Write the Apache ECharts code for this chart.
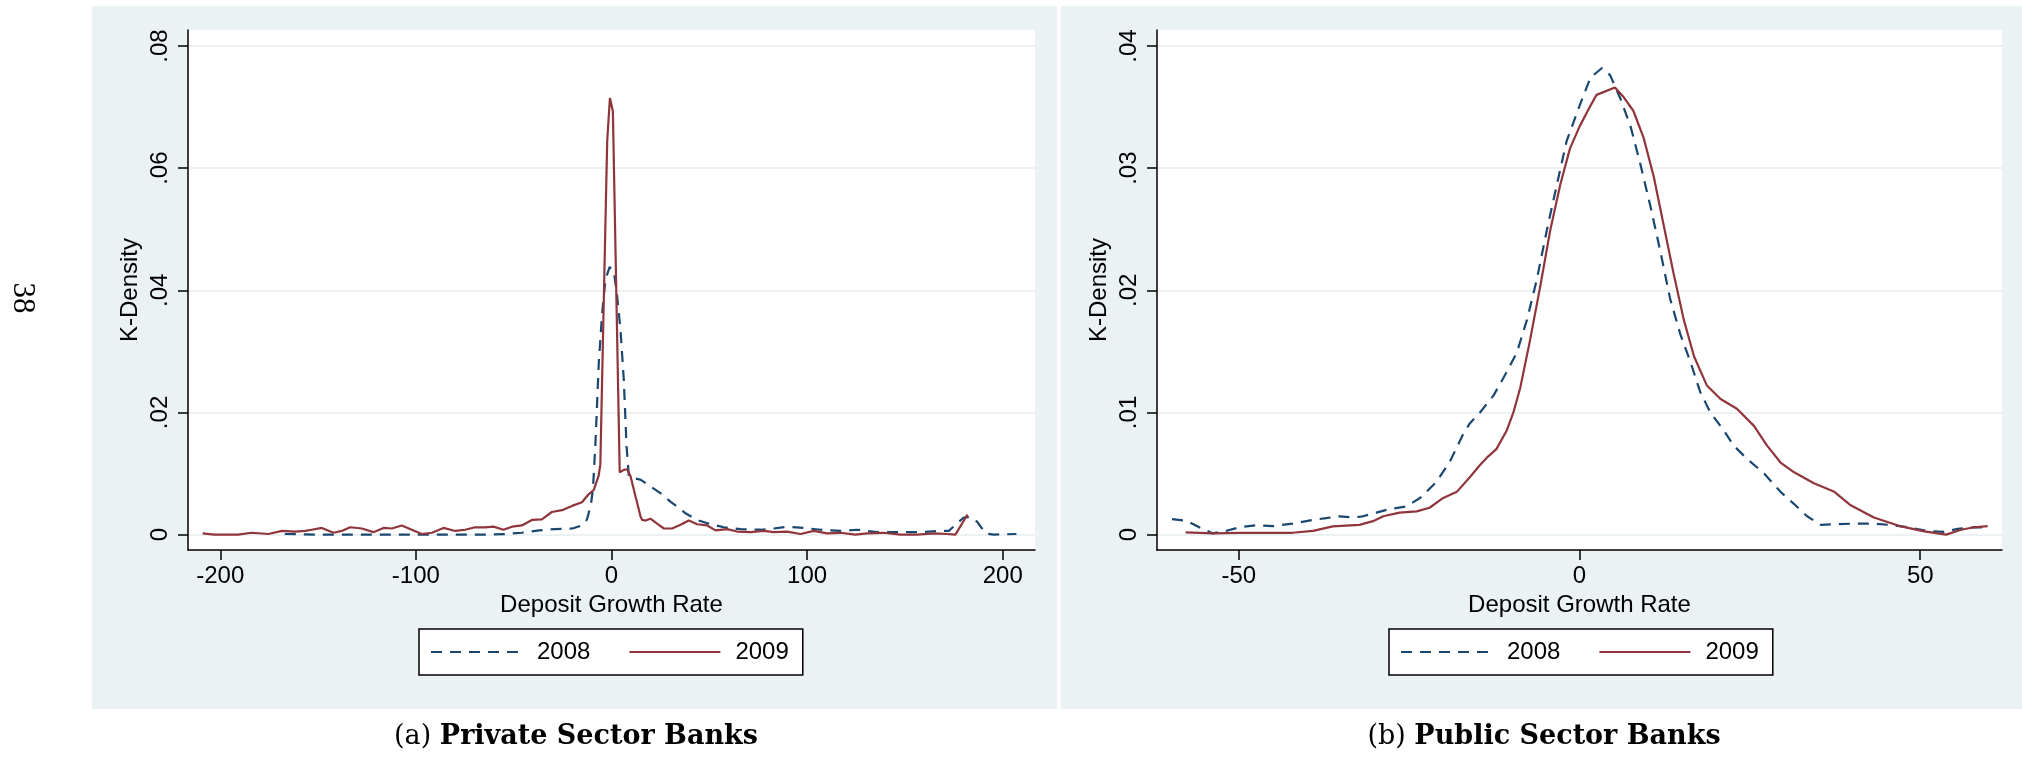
<!DOCTYPE html>
<html>
<head>
<meta charset="utf-8">
<script src="https://cdn.jsdelivr.net/npm/echarts@6/dist/echarts.min.js"></script>
<style>
html,body{margin:0;padding:0;background:#fff;}
#c{width:2022px;height:758px;}
</style>
</head>
<body>
<div id="c"></div>
<script>
// ---------- DATA ----------
const seriesNames = ['2008', '2009'];

// (a) Private Sector Banks: [deposit growth rate, density]
const private2008 = [
  [-167,0.0001],[-150,0.0000],[-130,0.0000],[-114,0.0000],[-100,0.0000],[-80,0.0000],[-63,0.0000],
  [-54,0.0001],[-46,0.0003],[-37,0.0007],[-29,0.0009],[-20,0.0010],[-15,0.0015],[-12.5,0.0025],
  [-10.5,0.0050],[-9.5,0.0074],[-8.2,0.0150],[-6.5,0.0281],[-4.8,0.0362],[-3.1,0.0417],[-1.0,0.0438],
  [1.2,0.0431],[2.9,0.0390],[4.6,0.0335],[6.3,0.0253],[7.7,0.0144],[8.9,0.0095],[10.6,0.0093],
  [14.8,0.0090],[19.9,0.0079],[25.0,0.0068],[30.1,0.0054],[32.7,0.0048],[37.8,0.0035],[43.8,0.0024],
  [50.6,0.0017],[57.4,0.0012],[65.9,0.0009],[76.2,0.0008],[83,0.0010],[89.8,0.0013],[98.3,0.0011],
  [106.8,0.0008],[117,0.0006],[125.6,0.0008],[135.8,0.0004],[147.7,0.0004],[158,0.0004],[168.2,0.0006],
  [172.4,0.0006],[175.8,0.0016],[180.1,0.0028],[183.5,0.0029],[187,0.0021],[191.2,0.0002],[195.4,0.0000],
  [207,0.0001]
];
const private2009 = [
  [-209,0.0002],[-203,0.0000],[-191,0.0000],[-184,0.0003],[-175.4,0.0001],[-168.5,0.0006],[-161.8,0.0005],
  [-156.6,0.0006],[-153.2,0.0008],[-148.1,0.0011],[-142.1,0.0003],[-137.9,0.0006],[-133.6,0.0012],
  [-127.6,0.0010],[-121.7,0.0004],[-116.6,0.0011],[-112.3,0.0010],[-107.2,0.0015],[-102.1,0.0008],
  [-97,0.0001],[-91.8,0.0003],[-85.9,0.0011],[-79.9,0.0006],[-74.8,0.0008],[-69.7,0.0012],[-64.6,0.0012],
  [-60.3,0.0013],[-55.2,0.0008],[-50.9,0.0013],[-45.8,0.0015],[-40.7,0.0024],[-35.6,0.0025],[-30.5,0.0037],
  [-25.3,0.0040],[-20.2,0.0047],[-15.1,0.0053],[-11.7,0.0066],[-9.1,0.0073],[-6.6,0.0096],[-5.7,0.0115],
  [-4.5,0.0300],[-3.3,0.0480],[-2.2,0.0644],[-0.8,0.0715],[0.7,0.0693],[4.2,0.0102],[6.3,0.0106],
  [8.0,0.0107],[9.7,0.0096],[11.4,0.0074],[12.3,0.0062],[13.1,0.0052],[14.8,0.0030],[15.7,0.0024],
  [17.4,0.0023],[19.9,0.0026],[23.3,0.0018],[26.8,0.0010],[31,0.0010],[35.3,0.0016],[39.5,0.0023],
  [43.8,0.0017],[48.9,0.0015],[53.2,0.0007],[59.1,0.0009],[64.2,0.0005],[71.1,0.0004],[77.9,0.0006],
  [83,0.0004],[89.8,0.0005],[96.6,0.0001],[103.4,0.0006],[110.2,0.0002],[117,0.0003],[124.7,0.0000],
  [130.7,0.0002],[139.2,0.0003],[147.7,0.0000],[156.3,0.0000],[164.8,0.0002],[171.6,0.0001],
  [175.8,0.0000],[182,0.0033]
];

// (b) Public Sector Banks
const public2008 = [
  [-59.8,0.00126],[-57.7,0.00114],[-55.8,0.0006],[-53.8,0.0001],[-51.9,0.0003],[-49.9,0.0006],
  [-47.5,0.00076],[-45,0.0007],[-42.1,0.0009],[-39.1,0.0012],[-37.2,0.00135],[-35.2,0.0015],
  [-33.2,0.0014],[-31.8,0.0015],[-29.8,0.0018],[-27.8,0.0021],[-25.4,0.0023],[-23.4,0.0030],
  [-21,0.0043],[-19,0.0060],[-17.1,0.0082],[-16.1,0.0091],[-14.6,0.0100],[-12.6,0.0114],
  [-10.7,0.0133],[-9.2,0.0149],[-7.7,0.0176],[-6.3,0.0208],[-4.8,0.0249],[-3.3,0.0287],
  [-1.9,0.0322],[0,0.0351],[1.6,0.0374],[3.3,0.0382],[4.5,0.0376],[6,0.0357],[7.5,0.0334],
  [8.9,0.0304],[10.4,0.0269],[11.9,0.0231],[13.3,0.0193],[14.8,0.0164],[16.3,0.0141],[17.7,0.0117],
  [19.2,0.0100],[21.2,0.0085],[22.6,0.0073],[24.6,0.0062],[27.1,0.0050],[29.5,0.0035],[31.5,0.0025],
  [33.4,0.0015],[35.4,0.0008],[37.4,0.00085],[40.3,0.0009],[43.2,0.0009],[46.2,0.00076],
  [48.6,0.00056],[51.1,0.0003],[53.5,0.00023],[55.5,0.00047],[57.9,0.0006],[59.9,0.0006]
];
const public2009 = [
  [-57.8,0.00018],[-53.8,0.0001],[-49.9,0.00015],[-46,0.00015],[-42.1,0.00015],[-39.1,0.0003],
  [-36.2,0.00067],[-32.3,0.0008],[-30.3,0.0011],[-28.8,0.0015],[-26.4,0.0018],[-23.9,0.0019],
  [-22,0.0022],[-20,0.0030],[-18,0.0035],[-16.1,0.0047],[-14.6,0.0057],[-13.6,0.0063],[-12.2,0.0070],
  [-10.7,0.0085],[-9.7,0.0100],[-8.7,0.0120],[-7.3,0.0158],[-5.8,0.0202],[-4.3,0.0249],[-2.8,0.0287],
  [-1.4,0.0316],[0,0.0334],[1.6,0.0351],[2.5,0.0360],[5.2,0.0366],[6.5,0.0358],[7.9,0.0347],
  [9.4,0.0325],[10.9,0.0293],[12.4,0.0252],[13.8,0.0214],[15.3,0.0176],[16.8,0.0146],[18.7,0.0122],
  [20.7,0.0111],[23.1,0.0103],[25.6,0.0089],[27.5,0.0073],[29.5,0.0059],[31.5,0.0051],[34.4,0.0042],
  [37.4,0.0035],[39.8,0.0024],[43.2,0.0014],[47.2,0.00067],[50.6,0.00026],[53.8,0.0000],[56,0.0004],
  [57.9,0.0006],[59.9,0.0007]
];

// tick values and labels
const privXTicks = [-200, -100, 0, 100, 200];
const privXLabels = ['-200', '-100', '0', '100', '200'];
const privYTicks = [0, 0.02, 0.04, 0.06, 0.08];
const privYLabels = ['0', '.02', '.04', '.06', '.08'];
const pubXTicks = [-50, 0, 50];
const pubXLabels = ['-50', '0', '50'];
const pubYTicks = [0, 0.01, 0.02, 0.03, 0.04];
const pubYLabels = ['0', '.01', '.02', '.03', '.04'];

const xTitle = 'Deposit Growth Rate';
const yTitle = 'K-Density';
const captionLabels = ['(a) ', '(b) '];
const captionTitles = ['Private Sector Banks', 'Public Sector Banks'];
const pageNumber = '38';

// ---------- STYLE ----------
const BLUE = '#1a476f';
const RED = '#90353b';
const BG = '#eaf2f3';
const GRIDLINE = '#e6eef0';
const FONT = 'Liberation Sans';

function labeler(ticks, labels) {
  return function (v) {
    const i = ticks.findIndex(t => Math.abs(t - v) < 1e-9);
    return i >= 0 ? labels[i] : '';
  };
}

function xAxisCfg(idx, min, max, ticks, labels) {
  return {
    type: 'value', gridIndex: idx, min: min, max: max,
    axisLine: {show: true, onZero: false, lineStyle: {color: '#000', width: 1.5}},
    axisTick: {show: true, length: 10, customValues: ticks, lineStyle: {color: '#000', width: 1.5}},
    axisLabel: {customValues: ticks, formatter: labeler(ticks, labels), fontSize: 24, color: '#000', fontFamily: FONT, margin: 14},
    splitLine: {show: false},
    name: xTitle, nameLocation: 'middle', nameGap: 40,
    nameTextStyle: {fontSize: 24, color: '#000', fontFamily: FONT}
  };
}
function yAxisCfg(idx, min, max, ticks, labels) {
  return {
    type: 'value', gridIndex: idx, min: min, max: max,
    axisLine: {show: true, onZero: false, lineStyle: {color: '#000', width: 1.5}},
    axisTick: {show: true, length: 10, customValues: ticks, lineStyle: {color: '#000', width: 1.5}},
    axisLabel: {customValues: ticks, formatter: labeler(ticks, labels), rotate: 90, fontSize: 24, color: '#000', fontFamily: FONT, margin: 16},
    splitLine: {show: true, lineStyle: {color: GRIDLINE, width: 1.5}},
    name: yTitle, nameLocation: 'middle', nameRotate: 90, nameGap: 46,
    nameTextStyle: {fontSize: 24, color: '#000', fontFamily: FONT}
  };
}
function lineSeries(name, data, xi, color, dashed) {
  return {
    type: 'line', name: name, data: data, xAxisIndex: xi, yAxisIndex: xi,
    symbol: 'none', showSymbol: false, smooth: false, silent: true,
    lineStyle: {color: color, width: 2.2, type: dashed ? [11, 8] : 'solid'},
    itemStyle: {color: color}
  };
}
function legendCfg(left) {
  return {
    left: left, top: 629, orient: 'horizontal', data: seriesNames,
    itemWidth: 91, itemHeight: 20, itemGap: 38, selectedMode: false,
    backgroundColor: '#fff', borderColor: '#000', borderWidth: 1.5,
    padding: [11, 14, 11, 11],
    itemStyle: {opacity: 0, color: 'rgba(0,0,0,0)', borderWidth: 0},
    textStyle: {fontSize: 24, color: '#000', fontFamily: FONT, padding: [0, 0, 0, 10]}
  };
}
function caption(i, cx) {
  return {
    type: 'text', x: cx, y: 737, silent: true,
    style: {
      text: '{n|' + captionLabels[i] + '}{b|' + captionTitles[i] + '}',
      align: 'center', verticalAlign: 'middle',
      rich: {
        n: {fontFamily: 'DejaVu Serif', fontSize: 27, fill: '#000'},
        b: {fontFamily: 'DejaVu Serif', fontSize: 27, fontWeight: 'bold', fill: '#000'}
      }
    }
  };
}

const chart = echarts.init(document.getElementById('c'));
chart.setOption({
  animation: false,
  backgroundColor: '#fff',
  textStyle: {fontFamily: FONT},
  graphic: [
    {type: 'rect', shape: {x: 92, y: 6, width: 965, height: 703}, style: {fill: BG}, silent: true, z: -10},
    {type: 'rect', shape: {x: 1061, y: 6, width: 961, height: 703}, style: {fill: BG}, silent: true, z: -10},
    {type: 'text', x: 22, y: 298, rotation: -Math.PI / 2, silent: true,
     style: {text: pageNumber, fontFamily: 'Liberation Serif', fontSize: 31, fill: '#000', align: 'center', verticalAlign: 'middle'}},
    caption(0, 576),
    caption(1, 1544)
  ],
  grid: [
    {left: 188, top: 30, width: 847, height: 520, show: true, backgroundColor: '#fff', borderWidth: 0, containLabel: false},
    {left: 1157, top: 30, width: 845, height: 520, show: true, backgroundColor: '#fff', borderWidth: 0, containLabel: false}
  ],
  xAxis: [
    xAxisCfg(0, -216.5, 216.5, privXTicks, privXLabels),
    xAxisCfg(1, -62, 62, pubXTicks, pubXLabels)
  ],
  yAxis: [
    yAxisCfg(0, -0.00252, 0.08262, privYTicks, privYLabels),
    yAxisCfg(1, -0.00126, 0.04131, pubYTicks, pubYLabels)
  ],
  legend: [legendCfg(419), legendCfg(1389)],
  series: [
    lineSeries(seriesNames[0], private2008, 0, BLUE, true),
    lineSeries(seriesNames[1], private2009, 0, RED, false),
    lineSeries(seriesNames[0], public2008, 1, BLUE, true),
    lineSeries(seriesNames[1], public2009, 1, RED, false)
  ]
});
</script>
</body>
</html>
